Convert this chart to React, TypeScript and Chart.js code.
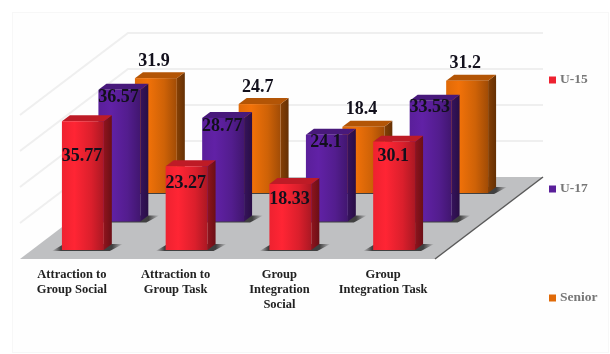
import React, { useEffect, useRef } from "react";
import { Chart, BarController, BarElement, registerables } from "chart.js";

// Data
const categories = [
  ["Attraction to", "Group Social"],
  ["Attraction to", "Group Task"],
  ["Group", "Integration", "Social"],
  ["Group", "Integration Task"],
];
const u15 = [35.77, 23.27, 18.33, 30.1];
const u17 = [36.57, 28.77, 24.1, 33.53];
const senior = [31.9, 24.7, 18.4, 31.2];

// Layout of the projected box, in canvas pixels
const FLOOR_DX = 108;
const FLOOR_DY = -82;
const ROW_START = { dx: 11, dy: -9 };
const ROW_STEP = { dx: 36.5, dy: -28.5 };
const CAP = { dx: 8, dy: -6 };
const SERIF = "'Liberation Serif', serif";

// Vertical drop of the value label below the top of the front face, by row then category
const labelDrop = [
  [35, 17, 15, 15],
  [7, 8, 8, 7],
];

const rowOffset = (row: number) => ({
  dx: ROW_START.dx + ROW_STEP.dx * row,
  dy: ROW_START.dy + ROW_STEP.dy * row,
});

function shade(hex: string, f: number) {
  const n = parseInt(hex.slice(1), 16);
  const c = [(n >> 16) & 255, (n >> 8) & 255, n & 255].map((v) => Math.min(255, Math.round(v * f)));
  return `rgb(${c[0]},${c[1]},${c[2]})`;
}

// A bar drawn as a box: contact shadow, right side, top cap, front face
class Bar3DElement extends BarElement {
  static id = "bar3d";
  draw(ctx: CanvasRenderingContext2D) {
    const { x, y, base, width } = (this as any).getProps(["x", "y", "base", "width"], false);
    const color = (this as any).options.backgroundColor as string;
    const l = x - width / 2;
    const r = x + width / 2;
    ctx.save();

    const sh = ctx.createLinearGradient(l - 10, 0, r + CAP.dx + 11, 0);
    const edge = 9 / (width + CAP.dx + 21);
    sh.addColorStop(0, "rgba(50,50,50,0)");
    sh.addColorStop(edge, "rgba(50,50,50,0.9)");
    sh.addColorStop(1 - edge * 1.2, "rgba(50,50,50,0.9)");
    sh.addColorStop(1, "rgba(50,50,50,0)");
    ctx.fillStyle = sh;
    ctx.beginPath();
    ctx.moveTo(l - 10, base + 1);
    ctx.lineTo(l + 2, base - 6);
    ctx.lineTo(r + CAP.dx + 11, base - 6);
    ctx.lineTo(r + CAP.dx - 2, base + 1);
    ctx.closePath();
    ctx.fill();

    const side = ctx.createLinearGradient(r, 0, r + CAP.dx, 0);
    side.addColorStop(0, shade(color, 0.6));
    side.addColorStop(1, shade(color, 0.45));
    ctx.fillStyle = side;
    ctx.beginPath();
    ctx.moveTo(r, y);
    ctx.lineTo(r + CAP.dx, y + CAP.dy);
    ctx.lineTo(r + CAP.dx, base + CAP.dy);
    ctx.lineTo(r, base);
    ctx.closePath();
    ctx.fill();

    ctx.fillStyle = shade(color, 0.8);
    ctx.beginPath();
    ctx.moveTo(l, y);
    ctx.lineTo(l + CAP.dx, y + CAP.dy);
    ctx.lineTo(r + CAP.dx, y + CAP.dy);
    ctx.lineTo(r, y);
    ctx.closePath();
    ctx.fill();

    const front = ctx.createLinearGradient(l, 0, r, 0);
    front.addColorStop(0, shade(color, 1));
    front.addColorStop(0.3, shade(color, 1.08));
    front.addColorStop(0.7, shade(color, 0.92));
    front.addColorStop(1, shade(color, 0.72));
    ctx.fillStyle = front;
    ctx.fillRect(l, y, width, base - y);
    ctx.restore();
  }
}

// Bar controller that pushes each dataset back one row into the box
class Bar3DController extends BarController {
  static id = "bar3d";
  static defaults = { dataElementType: "bar3d" };
  draw() {
    const ctx = (this as any).chart.ctx as CanvasRenderingContext2D;
    const { dx, dy } = rowOffset((this as any).index);
    ctx.save();
    ctx.translate(dx, dy);
    super.draw();
    ctx.restore();
  }
}

Chart.register(...registerables, Bar3DElement, Bar3DController);

// Panel behind everything, then walls with gridlines and the floor
const boxPlugin = {
  id: "box",
  beforeDraw(chart: any) {
    const { ctx } = chart;
    ctx.save();
    ctx.fillStyle = "#fefefe";
    ctx.strokeStyle = "#f7f7f7";
    ctx.lineWidth = 1;
    ctx.fillRect(12.5, 12.5, 596, 340);
    ctx.strokeRect(12.5, 12.5, 596, 340);
    ctx.restore();
  },
  beforeDatasetsDraw(chart: any) {
    const { ctx, scales } = chart;
    const xs = scales.x;
    const ys = scales.y;
    const bottom = ys.getPixelForValue(0);
    ctx.save();
    ctx.strokeStyle = "#efefef";
    ctx.lineWidth = 2;
    ys.ticks.forEach((t: any) => {
      if (t.value === 0) return;
      const py = ys.getPixelForValue(t.value);
      ctx.beginPath();
      ctx.moveTo(xs.left, py);
      ctx.lineTo(xs.left + FLOOR_DX, py + FLOOR_DY);
      ctx.lineTo(xs.right + FLOOR_DX, py + FLOOR_DY);
      ctx.stroke();
    });

    ctx.fillStyle = "#bfc0c2";
    ctx.beginPath();
    ctx.moveTo(xs.left, bottom);
    ctx.lineTo(xs.left + FLOOR_DX, bottom + FLOOR_DY);
    ctx.lineTo(xs.right + FLOOR_DX, bottom + FLOOR_DY);
    ctx.lineTo(xs.right, bottom);
    ctx.closePath();
    ctx.fill();

    ctx.strokeStyle = "#5a5a5a";
    ctx.lineWidth = 1.5;
    ctx.beginPath();
    ctx.moveTo(xs.right, bottom);
    ctx.lineTo(xs.right + FLOOR_DX, bottom + FLOOR_DY);
    ctx.stroke();
    ctx.restore();
  },
};

// Value labels: inside the nearer rows, above the back row
const valuePlugin = {
  id: "values",
  afterDatasetsDraw(chart: any) {
    const { ctx } = chart;
    ctx.save();
    ctx.font = `bold 18px ${SERIF}`;
    ctx.textAlign = "center";
    ctx.textBaseline = "middle";
    ctx.fillStyle = "#12101c";
    chart.data.datasets.forEach((ds: any, row: number) => {
      const { dx, dy } = rowOffset(row);
      chart.getDatasetMeta(row).data.forEach((bar: any, i: number) => {
        const text = String(ds.data[i]);
        if (row === 2) {
          ctx.fillText(text, bar.x + dx - 2, bar.y + dy + CAP.dy - 11);
        } else {
          ctx.fillText(text, bar.x + dx - 1, bar.y + dy + labelDrop[row][i]);
        }
      });
    });
    ctx.restore();
  },
};

// Widely spaced key down the right side
const keyPlugin = {
  id: "key",
  afterDraw(chart: any) {
    const { ctx } = chart;
    const left = 549;
    const first = 80;
    const step = 109;
    ctx.save();
    ctx.font = `bold 13.5px ${SERIF}`;
    ctx.textBaseline = "middle";
    ctx.textAlign = "left";
    chart.data.datasets.forEach((ds: any, i: number) => {
      const cy = first + step * i;
      ctx.fillStyle = ds.backgroundColor;
      ctx.fillRect(left, cy - 3.5, 7, 7);
      ctx.fillStyle = "#777777";
      ctx.fillText(ds.label, left + 11, cy);
    });
    ctx.restore();
  },
};

export default function App() {
  const ref = useRef<HTMLCanvasElement>(null);
  useEffect(() => {
    const common = { grouped: false, barPercentage: 0.404, categoryPercentage: 1, clip: false };
    const chart = new Chart(ref.current as HTMLCanvasElement, {
      type: "bar3d" as any,
      data: {
        labels: categories as any,
        datasets: [
          { label: "U-15", data: u15, backgroundColor: "#ee2230", ...common },
          { label: "U-17", data: u17, backgroundColor: "#5a1f9a", ...common },
          { label: "Senior", data: senior, backgroundColor: "#e06a08", ...common },
        ] as any,
      },
      plugins: [boxPlugin, valuePlugin, keyPlugin],
      options: {
        responsive: false,
        animation: false,
        layout: { padding: { left: 20, right: 175, top: 115, bottom: 0 } },
        plugins: { legend: { display: false }, tooltip: { enabled: false } },
        scales: {
          x: {
            grid: { display: false },
            border: { display: false },
            afterFit: (scale: any) => {
              scale.height = 95;
            },
            ticks: {
              padding: 0,
              maxRotation: 0,
              autoSkip: false,
              color: "#222222",
              font: { family: SERIF, size: 12.5, weight: "bold", lineHeight: 1.2 },
            },
          },
          y: { display: false, min: 0, max: 40, ticks: { stepSize: 10 } },
        },
      } as any,
    });
    return () => chart.destroy();
  }, []);
  return (
    <div style={{ position: "absolute", left: 0, top: 0, width: 610, height: 354, background: "#fff" }}>
      <canvas ref={ref} width={610} height={354} style={{ display: "block" }} />
    </div>
  );
}
